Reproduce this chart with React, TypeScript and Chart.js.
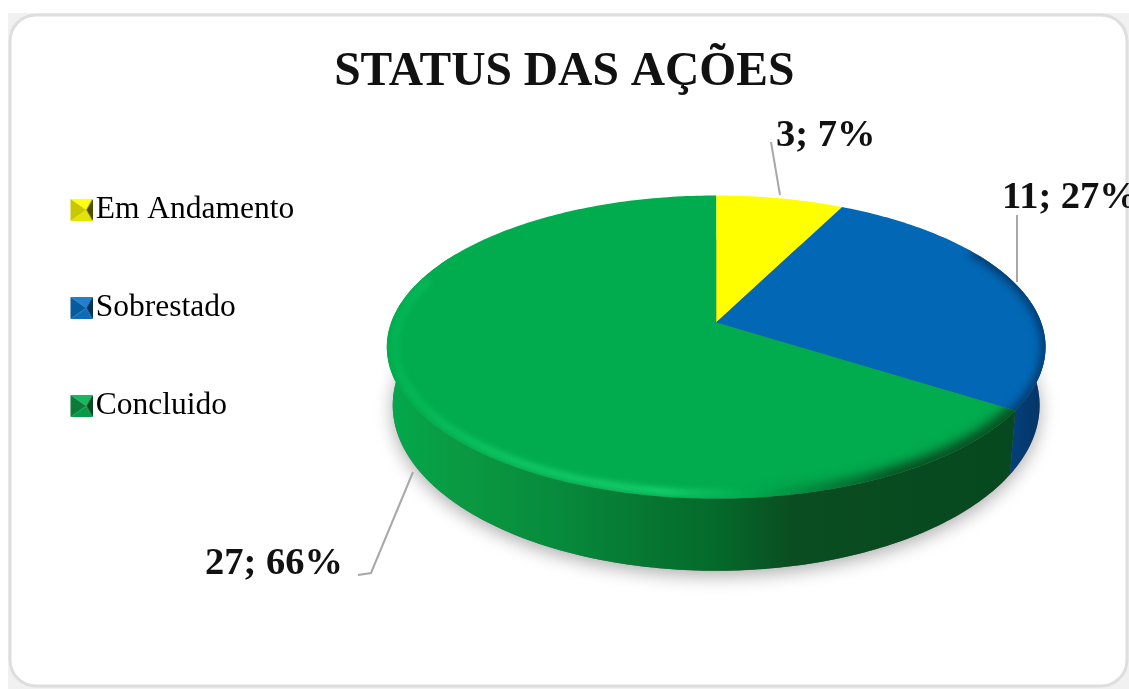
import React, { useEffect, useRef } from "react";
import { Chart, registerables } from "chart.js";

Chart.register(...registerables);

const categories = ["Em Andamento", "Sobrestado", "Concluido"];
const values = [3, 11, 27];
const chartTitle = "STATUS DAS AÇÕES";

const FONT = '"Liberation Serif", "Times New Roman", serif';
const topColors = ["#ffff00", "#0267b4", "#00ac4e"];
const bevelColors = [
  ["#ffff10", "#c8c800", "#4e4e00", "#e4e400"],
  ["#1f7fd0", "#075a9e", "#06315c", "#0b6cbc"],
  ["#19b860", "#0a7c3a", "#0a4a22", "#049a46"],
];
const wallStops: [number, string][][] = [
  [[0, "#b8b800"], [1, "#7a7a00"]],
  [[0, "#0a4f8f"], [0.9, "#0a4f8f"], [0.95, "#04407c"], [1, "#053566"]],
  [[0, "#03a84c"], [0.1, "#0a9a42"], [0.25, "#078b3c"], [0.4, "#067631"], [0.5, "#046a2b"], [0.62, "#0a4d20"], [1, "#06481f"]],
];

// label placement and leader lines, in picture coordinates
const labelAnchors = [
  { x: 776, y: 146, line: [[771, 142], [780, 195]] },
  { x: 1002, y: 208, line: [[1017, 215], [1017, 282]] },
  { x: 205, y: 574, line: [[413, 472], [371, 573], [358, 575]] },
];

const PERSPECTIVE = 0.162;
const SQUASH = 0.454;
const DEPTH = 56;

function bevelMarker(c: string[]) {
  const s = 22;
  const pad = 4;
  const cv = document.createElement("canvas");
  cv.width = s + pad;
  cv.height = s;
  const g = cv.getContext("2d")!;
  const tri = (pts: number[][], col: string) => {
    g.fillStyle = col;
    g.beginPath();
    pts.forEach(([x, y], i) => (i ? g.lineTo(pad + x, y) : g.moveTo(pad + x, y)));
    g.closePath();
    g.fill();
  };
  const m: number[] = [s * 0.72, s / 2];
  tri([[0, 0], [s, 0], m], c[0]);
  tri([[0, 0], [0, s], m], c[1]);
  tri([[s, 0], [s, s], m], c[2]);
  tri([[0, s], [s, s], m], c[3]);
  return cv;
}

function proj(el: any, a: number, level: number, rScale = 1) {
  const x = Math.cos(a) * rScale;
  const y = Math.sin(a) * rScale;
  const w = 1 - PERSPECTIVE * y;
  const R = el.outerRadius * (level ? 0.982 : 1);
  const S = el.outerRadius * SQUASH * (level ? 1.092 : 1);
  return [el.x + (R * x) / w, el.y + level * DEPTH + (S * y) / w];
}

function samples(a0: number, a1: number) {
  const n = Math.max(2, Math.ceil((Math.abs(a1 - a0) * 180) / Math.PI));
  const out: number[] = [];
  for (let i = 0; i <= n; i++) out.push(a0 + ((a1 - a0) * i) / n);
  return out;
}

function trace(ctx: CanvasRenderingContext2D, pts: number[][], cont = false) {
  pts.forEach(([x, y], i) => (i || cont ? ctx.lineTo(x, y) : ctx.moveTo(x, y)));
}

const pie3d = {
  id: "pie3d",
  beforeDraw(chart: any) {
    const ctx: CanvasRenderingContext2D = chart.ctx;
    ctx.save();
    ctx.fillStyle = "#ffffff";
    ctx.fillRect(0, 0, chart.width, chart.height);
    ctx.fillStyle = "#f1f1f1";
    ctx.fillRect(8, 13, chart.width, chart.height);
    ctx.beginPath();
    ctx.roundRect(10, 15, 1117, 671, 26);
    ctx.fillStyle = "#ffffff";
    ctx.fill();
    ctx.strokeStyle = "#dedede";
    ctx.lineWidth = 3;
    ctx.stroke();
    ctx.restore();
  },
  afterLayout(chart: any) {
    // nudge the title and legend blocks to their place in the reference
    chart.titleBlock.left -= 6;
    chart.titleBlock.right -= 6;
    chart.legend.left -= 2;
    chart.legend.right -= 2;
    chart.legend.top += 41;
    chart.legend.bottom += 41;
  },
  beforeDatasetsDraw(chart: any) {
    const ctx: CanvasRenderingContext2D = chart.ctx;
    const arcs: any[] = chart.getDatasetMeta(0).data;
    const el0 = arcs[0];
    const all = samples(0, Math.PI * 2);
    const left = el0.x - el0.outerRadius;
    const width = el0.outerRadius * 2;

    // soft shadow under the disc
    ctx.save();
    ctx.shadowColor = "rgba(0,0,0,0.32)";
    ctx.shadowBlur = 18;
    ctx.shadowOffsetY = 5;
    ctx.fillStyle = "#666";
    ctx.beginPath();
    trace(ctx, all.map((a) => proj(el0, a, 1)));
    ctx.closePath();
    ctx.fill();
    ctx.restore();

    // side wall
    const visA = -Math.PI / 6;
    const visB = (Math.PI * 7) / 6;
    arcs.forEach((el, i) => {
      const a0 = Math.max(el.startAngle, visA);
      const a1 = Math.min(el.endAngle, visB);
      if (a1 <= a0) return;
      const s = samples(a0, a1);
      const grad = ctx.createLinearGradient(left, 0, left + width, 0);
      wallStops[i].forEach(([p, c]) => grad.addColorStop(p, c));
      ctx.fillStyle = grad;
      ctx.beginPath();
      trace(ctx, s.map((a) => proj(el, a, 0)).concat(s.slice().reverse().map((a) => proj(el, a, 1))));
      ctx.closePath();
      ctx.fill();
    });

    // top face
    arcs.forEach((el, i) => {
      const s = samples(el.startAngle, el.endAngle);
      ctx.save();
      ctx.beginPath();
      ctx.moveTo(el.x, el.y);
      trace(ctx, s.map((a) => proj(el, a, 0)), true);
      ctx.closePath();
      ctx.fillStyle = topColors[i];
      ctx.fill();
      ctx.clip();

      const dark = i === 1 ? "rgba(3,50,100,1)" : "rgba(8,70,30,1)";
      const darkGrad = ctx.createLinearGradient(left + width * 0.55, 0, left + width * 0.78, 0);
      darkGrad.addColorStop(0, dark.replace(",1)", ",0)"));
      darkGrad.addColorStop(1, dark);
      ctx.filter = i === 1 ? "blur(4px)" : "blur(6px)";
      ctx.strokeStyle = darkGrad;
      ctx.lineWidth = i === 1 ? 8 : 15;
      ctx.beginPath();
      trace(ctx, samples(-0.55, Math.PI * 0.75).map((a) => proj(el, a, 0, 1.0)));
      if (i > 0) ctx.stroke();

      if (i === 2) {
        const g = ctx.createLinearGradient(left, 0, left + width, 0);
        g.addColorStop(0, "rgba(8,190,90,0.6)");
        g.addColorStop(0.15, "rgba(20,205,105,0.95)");
        g.addColorStop(0.42, "rgba(30,220,120,0.9)");
        g.addColorStop(0.55, "rgba(30,220,120,0)");
        ctx.filter = "blur(3px)";
        ctx.strokeStyle = g;
        ctx.lineWidth = 6;
        ctx.beginPath();
        trace(ctx, samples(Math.PI * 0.4, Math.PI * 1.1).map((a) => proj(el, a, 0, 0.975)));
        ctx.stroke();
      }
      ctx.restore();
    });

    // leader lines and value labels
    const total = values.reduce((p, v) => p + v, 0);
    ctx.save();
    ctx.strokeStyle = "#a8a8a8";
    ctx.lineWidth = 2;
    labelAnchors.forEach((l) => {
      ctx.beginPath();
      trace(ctx, l.line);
      ctx.stroke();
    });
    ctx.fillStyle = "#111111";
    ctx.font = `bold 38.5px ${FONT}`;
    ctx.textAlign = "left";
    ctx.textBaseline = "alphabetic";
    values.forEach((v, i) => {
      ctx.fillText(`${v}; ${Math.round((v / total) * 100)}%`, labelAnchors[i].x, labelAnchors[i].y);
    });
    ctx.restore();
    return false;
  },
};

export default function App() {
  const ref = useRef<HTMLCanvasElement>(null);
  useEffect(() => {
    document.body.style.margin = "0";
    document.body.style.overflow = "hidden";
    const chart = new Chart(ref.current!, {
      type: "pie",
      data: {
        labels: categories,
        datasets: [{ data: values, backgroundColor: topColors, borderWidth: 0 }],
      },
      options: {
        responsive: false,
        animation: false,
        radius: 325,
        layout: { padding: { left: 14.5, right: 3, top: 0, bottom: 155 } },
        plugins: {
          tooltip: { enabled: false },
          title: {
            display: true,
            text: chartTitle,
            color: "#111111",
            font: { family: FONT, size: 47.5, weight: "bold" },
            padding: { top: 44, bottom: 10 },
          },
          legend: {
            position: "left",
            labels: {
              font: { family: FONT, size: 31.5 },
              color: "#1a1a1a",
              padding: 66.5,
              boxWidth: 1,
              boxHeight: 1,
              usePointStyle: true,
              generateLabels: () =>
                categories.map((c, i) => ({
                  text: c,
                  fillStyle: topColors[i],
                  strokeStyle: topColors[i],
                  lineWidth: 0,
                  hidden: false,
                  index: i,
                  pointStyle: bevelMarker(bevelColors[i]),
                })),
            },
          },
        },
      } as any,
      plugins: [pie3d as any],
    });
    return () => chart.destroy();
  }, []);
  return <canvas ref={ref} width={1129} height={689} style={{ display: "block" }} />;
}
